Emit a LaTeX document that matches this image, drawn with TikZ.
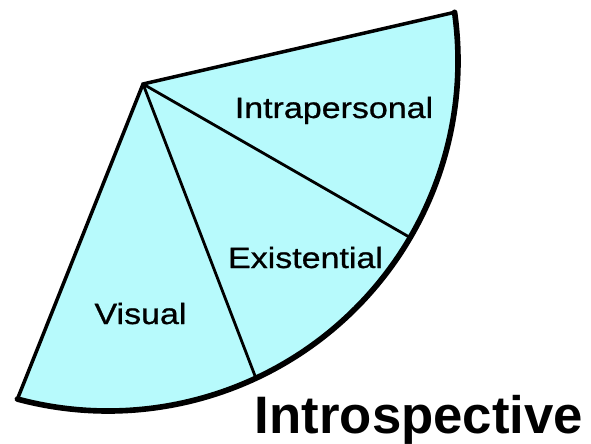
\documentclass[tikz,border=0pt]{standalone}
\usepackage{fontspec}
\usepackage{tikz}
\usetikzlibrary{calc}
\newfontfamily\etiqfont[FakeStretch=1.16,FakeBold=0.8]{Liberation Sans}
\newfontfamily\titfont{Liberation Sans}
\definecolor{palecyan}{RGB}{183,250,252}
\tikzset{
  borde/.style={
    draw=black,
    line width=3pt,
    line join=miter
  },
  arco/.style={
    draw=black,
    line width=4.8pt
  },
  division/.style={
    draw=black,
    line width=2.4pt
  },
  etiqueta/.style={
    anchor=base,
    inner sep=0pt,
    font=\etiqfont\fontsize{25}{29}\selectfont
  },
  titulo/.style={
    anchor=base,
    inner sep=0pt,
    font=\titfont\bfseries\fontsize{45}{50}\selectfont
  }
}
\begin{document}
\begin{tikzpicture}[x=0.03cm, y=0.03cm]
\useasboundingbox (0,0) rectangle (591,443);
% puntos del abanico
\coordinate (centro) at (108,382);
\coordinate (apex) at (143,359);
\coordinate (izq) at ($(centro)+(-105:350)$);
\coordinate (div1) at ($(centro)+(-65:350)$);
\coordinate (div2) at ($(centro)+(-30.3:350)$);
\coordinate (der) at ($(centro)+(8:350)$);
% relleno y contorno
\fill[palecyan] (apex) -- (izq) arc[start angle=-105, end angle=8, radius=350] -- cycle;
\draw[division] (apex) -- (div1);
\draw[division] (apex) -- (div2);
\draw[borde] (der) -- (apex) -- (izq);
\draw[arco, line cap=round] (izq) arc[start angle=-105, end angle=8, radius=350];
% textos
\node[etiqueta] (intra) at (334,325) {Intrapersonal};
\node[etiqueta] (exist) at (305.5,175) {Existential};
\node[etiqueta] (visual) at (140.5,119) {Visual};
\node[titulo] (tit) at (419,10) {Introspective};
\end{tikzpicture}
\end{document}
